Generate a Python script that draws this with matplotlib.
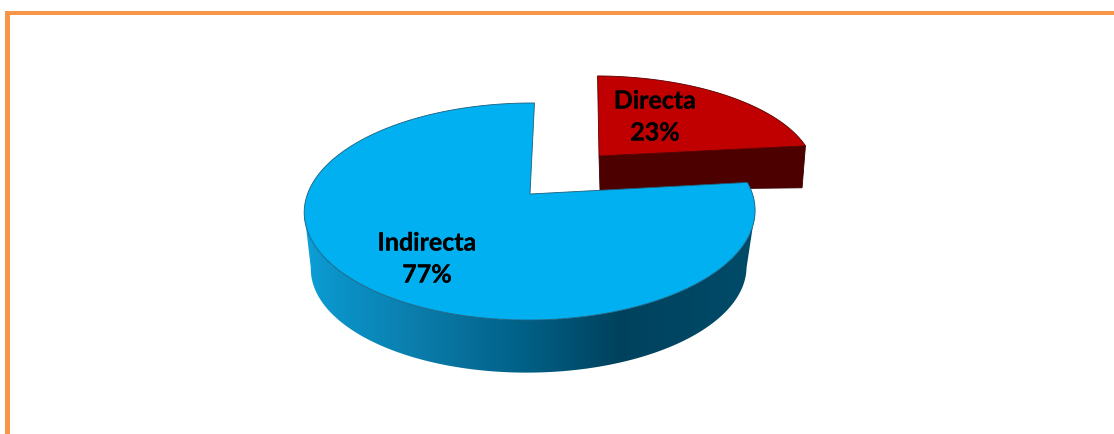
#!/usr/bin/env python3
"""Exploded 3D-looking pie chart of Directa / Indirecta shares."""

import matplotlib

matplotlib.use("Agg")

import matplotlib.patheffects as pe
import matplotlib.pyplot as plt
import numpy as np
from matplotlib.colors import LinearSegmentedColormap
from matplotlib.patches import Polygon, Rectangle


labels = ["Directa", "Indirecta"]
shares = [23, 77]

START_ANGLE = 89.2
DEPTH = 6.2

WALL_X = [305, 330, 430, 530, 620, 740, 760]
WALL_COLORS = ["#0ea3dc", "#0a96cc", "#0a7aa8", "#005f85", "#00425e", "#004a68", "#004a68"]


def project(theta, center, xr, yr, shear=0.0):
    """Unit circle angle (deg) to pixel position with a little perspective."""
    t = np.radians(theta)
    x, y = np.cos(t), np.sin(t)
    s = DEPTH / (DEPTH + y)
    return np.column_stack(
        [center[0] + xr * x * s + shear * yr * y * s, center[1] - yr * y * s]
    )


def wedge_poly(a0, a1, center, xr, yr, shear=0.0):
    arc = project(np.linspace(a0, a1, 240), center, xr, yr, shear)
    return np.vstack([[center], arc])


def main():
    fig = plt.figure(figsize=(11.14, 4.34), dpi=100)
    ax = fig.add_axes([0, 0, 1, 1])

    # frame, only left and top sides show
    ax.add_patch(Rectangle((5, 11), 1109, 3.5, color="#f79646", lw=0))
    ax.add_patch(Rectangle((5, 11), 5, 423, color="#f79646", lw=0))

    sweep = [360 * v / sum(shares) for v in shares]
    end_angle = START_ANGLE - sweep[0]

    # small slice, pulled out
    red_top = dict(center=(599, 156), xr=212, yr=93, shear=-0.05)
    red_low = dict(center=(600, 190), xr=207, yr=20, shear=0.0)
    face = np.vstack(
        [
            red_top["center"],
            project(np.array([end_angle]), **red_top),
            project(np.array([end_angle]), **red_low),
            red_low["center"],
        ]
    )
    ax.add_patch(Polygon(face, closed=True, fc="#4d0000", ec="#3a0000", lw=0.6, zorder=2))
    ax.add_patch(
        Polygon(
            wedge_poly(end_angle, START_ANGLE, **red_top),
            closed=True, fc="#c00000", ec="#5a0000", lw=0.6, zorder=3,
        )
    )

    # large slice, side wall is a horizontal gradient clipped to the rim shape
    blue_top = dict(center=(530, 194), xr=222.5, yr=105.7, shear=0.02)
    blue_low = dict(center=(529, 251), xr=215, yr=102, shear=0.02)
    # silhouette runs between the widest points of the two rims
    widest = np.degrees(np.arcsin(1 / DEPTH))
    angles = np.linspace(180 + widest, 360 - widest, 500)
    wall_shape = np.vstack([project(angles, **blue_top), project(angles[::-1], **blue_low)])
    wall_patch = Polygon(wall_shape, closed=True, fc="none", ec="none", transform=ax.transData)
    ax.add_patch(wall_patch)

    stops = [(x - WALL_X[0]) / (WALL_X[-1] - WALL_X[0]) for x in WALL_X]
    wall_cmap = LinearSegmentedColormap.from_list("wall", list(zip(stops, WALL_COLORS)))
    gradient = ax.imshow(
        np.linspace(0, 1, 512)[None, :],
        cmap=wall_cmap,
        extent=(WALL_X[0] - 5, WALL_X[-1], 380, 150),
        aspect="auto",
        interpolation="bilinear",
        zorder=4,
    )
    gradient.set_clip_path(wall_patch)

    ax.add_patch(
        Polygon(
            wedge_poly(START_ANGLE, START_ANGLE + sweep[1], **blue_top),
            closed=True, fc="#00b0f0", ec="#1c5f7c", lw=0.6, zorder=5,
        )
    )

    text_style = dict(
        family="Lato", fontweight="bold", fontsize=18, color="black",
        ha="center", va="center", zorder=6,
        path_effects=[pe.withStroke(linewidth=0.15, foreground="black")],
    )
    ax.text(655, 101, labels[0], **text_style)
    ax.text(655, 133, f"{shares[0]}%", **text_style)
    ax.text(427, 243, labels[1], **text_style)
    ax.text(427, 275, f"{shares[1]}%", **text_style)

    ax.set_xlim(0, 1114)
    ax.set_ylim(434, 0)
    ax.axis("off")

    fig.savefig("out.png", dpi=100)


if __name__ == "__main__":
    main()
